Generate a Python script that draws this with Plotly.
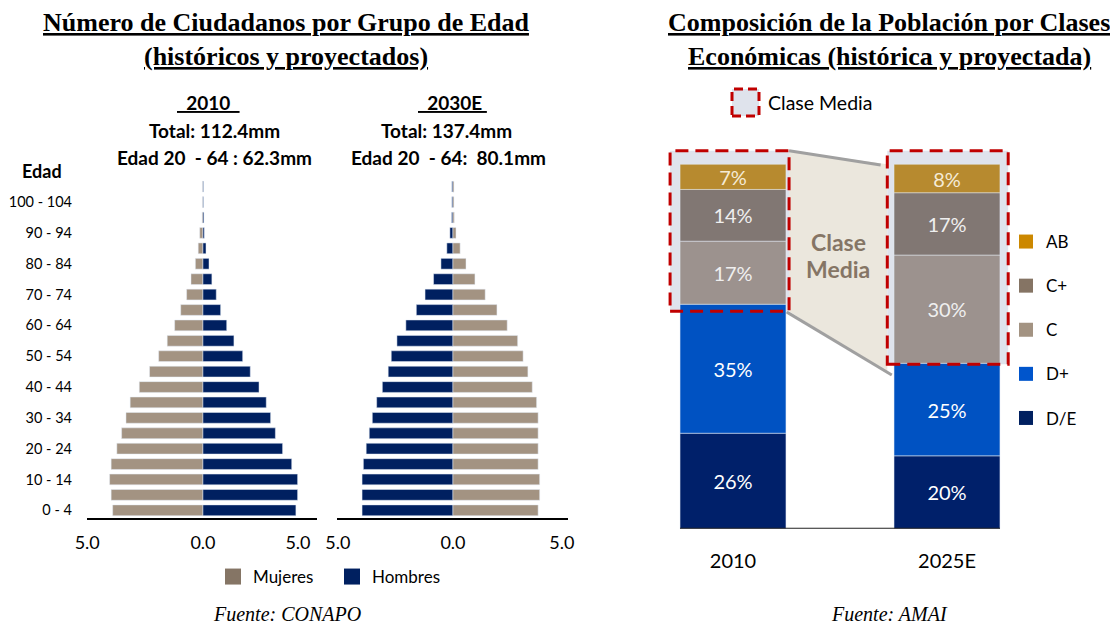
import plotly.graph_objects as go

W, H = 1118, 628
OX, OY = 8, 8          # margen del <body> de la página
WF, HF = W - OX, H - OY

# Grupos de edad (de abajo hacia arriba)
edades = ["0 - 4", "5 - 9", "10 - 14", "15 - 19", "20 - 24", "25 - 29", "30 - 34",
          "35 - 39", "40 - 44", "45 - 49", "50 - 54", "55 - 59", "60 - 64", "65 - 69",
          "70 - 74", "75 - 79", "80 - 84", "85 - 89", "90 - 94", "95 - 99",
          "100 - 104", "105 - 109"]

# 2010 (% de la población)
mujeres_2010 = [4.75, 4.83, 4.91, 4.83, 4.53, 4.28, 4.05, 3.83, 3.35, 2.81, 2.33,
                1.88, 1.49, 1.17, 0.86, 0.63, 0.40, 0.25, 0.17, 0.05, 0.03, 0.03]
hombres_2010 = [4.89, 4.98, 4.98, 4.67, 4.19, 3.81, 3.56, 3.33, 2.95, 2.49, 2.09,
                1.63, 1.25, 0.93, 0.70, 0.47, 0.32, 0.16, 0.07, 0.05, 0.03, 0.03]

# 2030E
hombres_2030 = [4.17, 4.17, 4.17, 4.11, 3.98, 3.84, 3.70, 3.50, 3.24, 2.97, 2.83,
                2.57, 2.16, 1.68, 1.28, 0.89, 0.55, 0.28, 0.14, 0.06, 0.05, 0.05]
mujeres_2030 = [3.91, 3.98, 3.98, 3.91, 3.91, 3.91, 3.91, 3.84, 3.64, 3.44, 3.22,
                2.97, 2.49, 2.02, 1.48, 1.01, 0.60, 0.33, 0.14, 0.06, 0.05, 0.05]

# Clases económicas (%)
anios = ["2010", "2025E"]
clases = ["D/E", "D+", "C", "C+", "AB"]
valores = {
    "D/E": [26.2, 20.0],
    "D+": [35.4, 25.4],
    "C": [17.3, 29.7],
    "C+": [14.2, 17.1],
    "AB": [6.9, 7.8],
}

TAN = "#A39382"
NAVY = "#002060"
col_barra = {"D/E": "#00206A", "D+": "#0052C2", "C": "#9C928E", "C+": "#817773", "AB": "#B78A2F"}
col_leyenda = {"D/E": "#002060", "D+": "#0055CC", "C": "#A39382", "C+": "#857464", "AB": "#CC8800"}
col_texto = {"D/E": "white", "D+": "white", "C": "#EFEFEF", "C+": "#EFEFEF", "AB": "#F5EBD6"}

SANS = "Lato"
SERIF = "Liberation Serif"


def px(x):
    return (x - OX) / WF


def py(y):
    return 1 - (y - OY) / HF


fig = go.Figure()

# pirámide 2010
fig.add_trace(go.Bar(y=edades, x=[-v for v in mujeres_2010], orientation="h",
                     marker_color=TAN, xaxis="x", yaxis="y", showlegend=False))
fig.add_trace(go.Bar(y=edades, x=hombres_2010, orientation="h",
                     marker_color=NAVY, xaxis="x", yaxis="y", showlegend=False))
# pirámide 2030E
fig.add_trace(go.Bar(y=edades, x=[-v for v in hombres_2030], orientation="h",
                     marker_color=NAVY, xaxis="x2", yaxis="y2", showlegend=False))
fig.add_trace(go.Bar(y=edades, x=mujeres_2030, orientation="h",
                     marker_color=TAN, xaxis="x2", yaxis="y2", showlegend=False))
# leyenda pirámides
for nombre, col in [("Mujeres", "#857565"), ("Hombres", NAVY)]:
    fig.add_trace(go.Scatter(x=[None], y=[None], name=nombre, mode="markers",
                             marker=dict(symbol="square", size=16, color=col),
                             xaxis="x", yaxis="y", legend="legend"))

# barras apiladas
for c in clases:
    fig.add_trace(go.Bar(
        x=anios, y=valores[c], width=0.495, marker_color=col_barra[c],
        texttemplate="%{y:.0f}%", textposition="inside", insidetextanchor="middle",
        constraintext="none", textfont=dict(family=SANS, size=20, color=col_texto[c]),
        xaxis="x3", yaxis="y3", showlegend=False))
for c in reversed(clases):
    fig.add_trace(go.Scatter(x=[None], y=[None], name=c, mode="markers",
                             marker=dict(symbol="square", size=14, color=col_leyenda[c]),
                             xaxis="x3", yaxis="y3", legend="legend2", legendgroup=c))

ydom = [py(518), py(179)]
u3 = 214.0  # px por unidad de categoría
y3 = 3.644  # px por punto porcentual

fig.update_layout(
    width=WF, height=HF, plot_bgcolor="white", paper_bgcolor="white",
    margin=dict(l=0, r=0, t=0, b=0, autoexpand=False),
    barmode="relative", bargap=0.3,
    font=dict(family=SANS, size=15, color="black"),
    xaxis=dict(domain=[px(87), px(317)], anchor="y", range=[-6.1, 6.0], automargin=False,
               showline=True, linecolor="black", linewidth=1.5, showgrid=False,
               zeroline=False, tickvals=[-6.09, 0, 5], ticktext=["5.0", "0.0", "5.0"],
               tickfont=dict(size=18), ticklabelstandoff=8),
    yaxis=dict(domain=ydom, anchor="x", type="category", categoryorder="array",
               categoryarray=edades, tickvals=edades[::2], showgrid=False, automargin=False,
               ticks="", tickfont=dict(size=14.5), ticklabelstandoff=14),
    xaxis2=dict(domain=[px(337), px(568)], anchor="y2", range=[-5.32, 5.28], automargin=False,
                showline=True, linecolor="black", linewidth=1.5, showgrid=False,
                zeroline=False, tickvals=[-5.28, 0, 5], ticktext=["5.0", "0.0", "5.0"],
                tickfont=dict(size=18), ticklabelstandoff=8),
    yaxis2=dict(domain=ydom, anchor="x2", type="category", categoryorder="array", automargin=False,
                categoryarray=edades, showgrid=False, showticklabels=False, ticks=""),
    xaxis3=dict(domain=[px(733 - 0.4 * u3), px(947 + 0.4 * u3)], anchor="y3",
                type="category", categoryorder="array", categoryarray=anios, automargin=False,
                range=[-0.4, 1.4], showline=False, showgrid=False, ticks="",
                tickfont=dict(size=20), ticklabelstandoff=18),
    yaxis3=dict(domain=[py(528.7), py(528.7 - 106 * y3)], anchor="x3", range=[0, 106],
                visible=False),
    legend=dict(orientation="h", x=px(332), y=py(577), xanchor="center", yanchor="middle",
                font=dict(size=17), entrywidth=74, bgcolor="rgba(0,0,0,0)"),
    legend2=dict(x=px(1006), y=py(224), xanchor="left", yanchor="top",
                 font=dict(size=17), tracegroupgap=19, bgcolor="rgba(0,0,0,0)"),
)

shapes = []
# conector "Clase Media"
shapes.append(dict(type="path", xref="x3", yref="y3", layer="below",
                   path="M 0.262,103.7 L 0.721,100 L 0.721,42.5 L 0.262,59.7 Z",
                   fillcolor="#EBE7DD", line=dict(width=0)))
shapes.append(dict(type="line", xref="x3", yref="y3", x0=0.262, y0=103.7, x1=0.69, y1=99.8,
                   line=dict(color="#A0A0A0", width=3), layer="below"))
shapes.append(dict(type="line", xref="x3", yref="y3", x0=0.25, y0=59.5, x1=0.742, y1=42.2,
                   line=dict(color="#A0A0A0", width=3), layer="below"))
# cajas clase media
for x0, x1, y0 in [(-0.294, 0.262, 59.7), (0.721, 1.286, 45.1)]:
    shapes.append(dict(type="rect", xref="x3", yref="y3", x0=x0, x1=x1, y0=y0, y1=103.7,
                       fillcolor="#DFE3EC", line=dict(width=0), layer="below"))
    shapes.append(dict(type="rect", xref="x3", yref="y3", x0=x0, x1=x1, y0=y0, y1=103.7,
                       fillcolor="rgba(0,0,0,0)",
                       line=dict(color="#C00000", width=3, dash="13px,7px"), layer="above"))
# línea base
shapes.append(dict(type="line", xref="x3", yref="y3", x0=-0.2477, x1=1.2477, y0=0, y1=0,
                   line=dict(color="#222222", width=2), layer="above"))
# leyenda clase media
shapes.append(dict(type="rect", xref="paper", yref="paper", x0=px(732), x1=px(759),
                   y0=py(116), y1=py(89), fillcolor="#DFE3EC",
                   line=dict(color="#C00000", width=3, dash="9px,5px")))
fig.update_layout(shapes=shapes)

ann = []


def texto(x, y, t, size=16, family=SANS, color="black", xanchor="center", yanchor="middle"):
    ann.append(dict(x=px(x), y=py(y), xref="paper", yref="paper", text=t, showarrow=False,
                    xanchor=xanchor, yanchor=yanchor,
                    font=dict(family=family, size=size, color=color)))


texto(286, 23, "<b><u>Número de Ciudadanos por Grupo de Edad</u></b>", 26, SERIF)
texto(286, 57, "<b><u>(históricos y proyectados)</u></b>", 26, SERIF)
texto(889, 23, "<b><u>Composición de la Población por Clases</u></b>", 26, SERIF)
texto(889, 57, "<b><u>Económicas (histórica y proyectada)</u></b>", 26, SERIF)

texto(208, 102, "<b><u>\u00a0\u00a02010\u00a0\u00a0</u></b>", 19)
texto(214, 131, "<b>Total: 112.4mm</b>", 19)
texto(214, 157, "<b>Edad 20\u00a0 - 64 : 62.3mm</b>", 19)
texto(452, 102, "<b><u>\u00a0\u00a02030E\u00a0</u></b>", 19)
texto(446, 131, "<b>Total: 137.4mm</b>", 19)
texto(448, 157, "<b>Edad 20\u00a0 - 64:\u00a0 80.1mm</b>", 19)
texto(42, 171, "<b>Edad</b>", 18)

texto(838, 242, "<b>Clase</b>", 23, color="#857565")
texto(838, 269, "<b>Media</b>", 23, color="#857565")
texto(766, 102, "Clase Media", 19.5, xanchor="left")

texto(287, 627, "<i>Fuente: CONAPO</i>", 20, SERIF, yanchor="bottom")
texto(889, 627, "<i>Fuente: AMAI</i>", 20, SERIF, yanchor="bottom")

fig.update_layout(annotations=ann)

fig.write_html("out.html")
